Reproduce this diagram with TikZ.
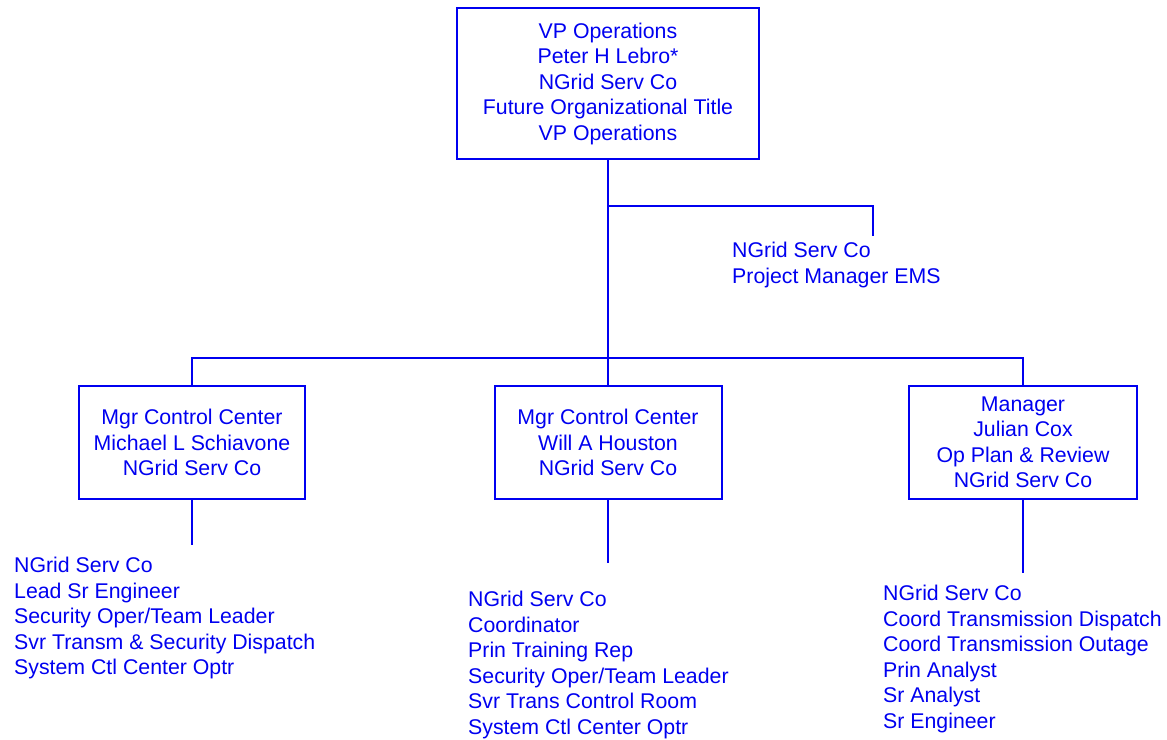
\documentclass[tikz,border=0pt]{standalone}
\usepackage{fontspec}
\setmainfont{Liberation Sans}
\definecolor{orgblue}{RGB}{0,0,240}
\begin{document}
\begin{tikzpicture}[x=1pt,y=-1pt,
  every node/.style={text=orgblue,font=\fontsize{21.3}{25.5}\selectfont,inner sep=0pt},
  box/.style={draw=orgblue,line width=2pt,align=center,minimum width=#1},
  list/.style={align=left,anchor=west},
  conn/.style={draw=orgblue,line width=2pt}]
\useasboundingbox (0,0) rectangle (1167,739);
\node[box=302,minimum height=151] (vp) at (608,83.5) {VP Operations\\Peter H Lebro*\\NGrid Serv Co\\Future Organizational Title\\VP Operations};
\node[box=226,minimum height=113] (m1) at (192,442.5) {Mgr Control Center\\Michael L Schiavone\\NGrid Serv Co};
\node[box=227,minimum height=113] (m2) at (608,442.5) {Mgr Control Center\\Will A Houston\\NGrid Serv Co};
\node[box=228,minimum height=113] (m3) at (1023,442.5) {Manager\\Julian Cox\\Op Plan \& Review\\NGrid Serv Co};
\node[list] (pm) at (732,265) {NGrid Serv Co\\Project Manager EMS};
\node[list] (l1) at (14,618) {NGrid Serv Co\\Lead Sr Engineer\\Security Oper/Team Leader\\Svr Transm \& Security Dispatch\\System Ctl Center Optr};
\node[list] (l2) at (468,665) {NGrid Serv Co\\Coordinator\\Prin Training Rep\\Security Oper/Team Leader\\Svr Trans Control Room\\System Ctl Center Optr};
\node[list] (l3) at (883,659) {NGrid Serv Co\\Coord Transmission Dispatch\\Coord Transmission Outage\\Prin Analyst\\Sr Analyst\\Sr Engineer};
\coordinate (j) at (608,358);
\coordinate (pmj) at (608,206);
\coordinate (pmend) at (873,236);
\coordinate (d1) at (192,545);
\coordinate (d2) at (608,563);
\coordinate (d3) at (1023,573);
\draw[conn] (vp.south) -- (j);
\draw[conn] (pmj) -| (pmend);
\draw[conn] (m1.north) |- (j) -| (m3.north);
\draw[conn] (m2.north) -- (j);
\draw[conn] (m1.south) -- (d1);
\draw[conn] (m2.south) -- (d2);
\draw[conn] (m3.south) -- (d3);
\end{tikzpicture}
\end{document}
